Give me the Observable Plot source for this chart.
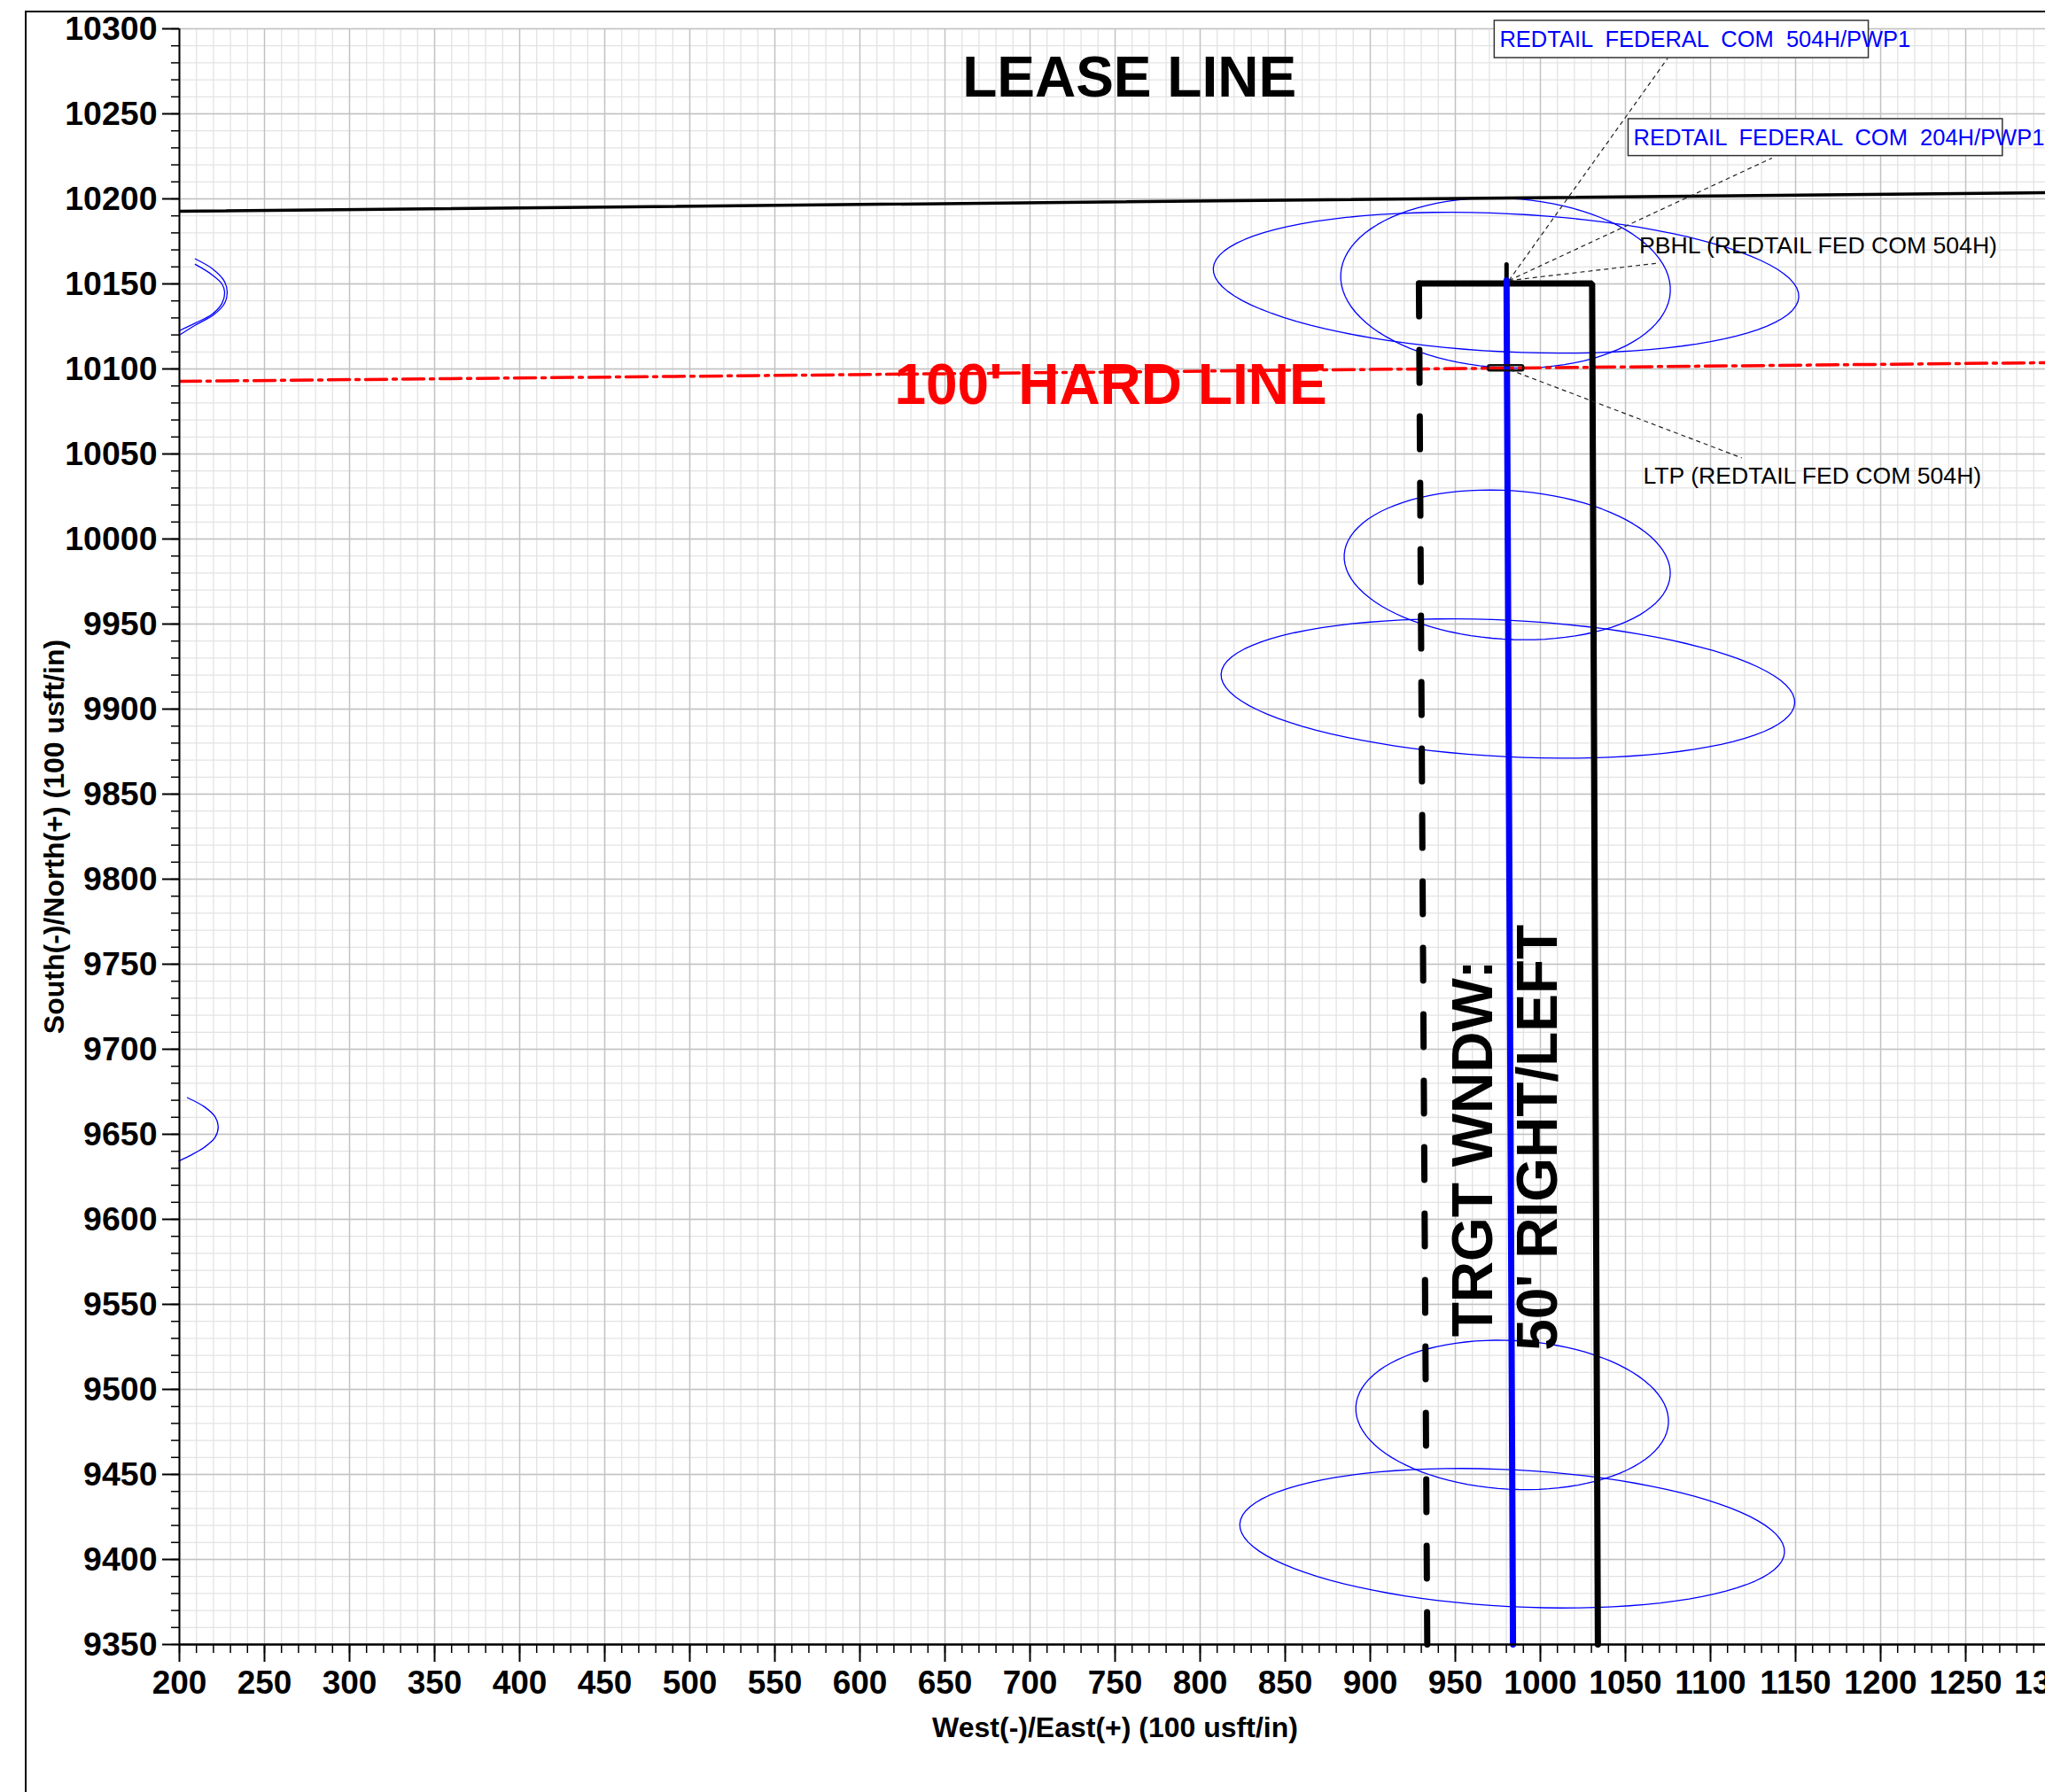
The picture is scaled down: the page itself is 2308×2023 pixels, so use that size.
<!DOCTYPE html>
<html>
<head>
<meta charset="utf-8">
<script src="https://cdn.jsdelivr.net/npm/d3@7"></script>
<script src="https://cdn.jsdelivr.net/npm/@observablehq/plot@0.6"></script>
<style>
html, body { margin:0; padding:0; background:#fff; overflow:hidden; width:2308px; height:2023px; }
#wrap { position:relative; width:2308px; height:2023px; overflow:hidden; background:#fff; }
#chart { position:absolute; left:0; top:0; width:2360px; }
#chart svg { max-width:none !important; }
#frame { position:absolute; left:28px; top:12px; width:2400px; height:2100px; border-left:2px solid #000; border-top:2px solid #000; pointer-events:none; }
#strip { position:absolute; left:0; top:37px; width:28px; height:1833px; overflow:hidden;
  border-top:2px solid #000; border-bottom:3px solid #000;
  background-image:
    repeating-linear-gradient(to bottom, transparent 0 18px, #e2e2e2 18px 19.2px),
    repeating-linear-gradient(to right, transparent 0 6px, #dcdcdc 6px 7.2px, transparent 7.2px 26px, #c4c4c4 26px 27.2px, transparent 27.2px 28px);
  font-family:"Liberation Sans", Arial, sans-serif; }
#strip .wp { position:absolute; left:-9px; top:188px; font-size:26px; color:#0000ff; white-space:nowrap; }
#strip .red { position:absolute; left:0; width:28px; top:1642px; border-top:3px dashed #ff0000; }
#stripLab { position:absolute; left:0; top:1875px; width:28px; height:80px; overflow:hidden; font-family:"Liberation Sans", Arial, sans-serif; }
#stripLab span { position:absolute; left:-12px; top:28px; font-size:36px; font-weight:bold; white-space:nowrap; }
</style>
</head>
<body>
<div id="wrap">
  <div id="strip"><span class="wp">WP1</span><div class="red"></div></div>
  <div id="stripLab"><span>0&nbsp;&nbsp;1</span></div>
  <div id="chart"></div>
  <div id="frame"></div>
</div>
<script>
// ---- tick values ----
const xMajor = [200,250,300,350,400,450,500,550,600,650,700,750,800,850,900,950,1000,1050,1100,1150,1200,1250,1300];
const yMajor = [9350,9400,9450,9500,9550,9600,9650,9700,9750,9800,9850,9900,9950,10000,10050,10100,10150,10200,10250,10300];
const xMinor = d3.range(200, 1301, 10);
const yMinor = d3.range(9350, 10301, 10);

// ---- lines ----
const leaseX = [200, 1300];
const leaseY = [10192.7, 10203.7];
const hardX = [200, 1300];
const hardY = [10092.7, 10103.7];

const wellX = [980.1, 983.9];
const wellY = [10152, 9350];
const windowX = [928.6, 1030.4, 1033.8];
const windowY = [10150.2, 10150.2, 9350];
const windowDashX = [928.6, 933.5];
const windowDashY = [10150.2, 9350];
const pbhlTickX = [980.1, 980.1];
const pbhlTickY = [10150.2, 10161.5];
const ltpX1 = [969.4], ltpX2 = [990.2], ltpY1 = [10098.8], ltpY2 = [10101.9];

// ---- error ellipses: centre, semi-axes, rotation (deg) ----
const ellCx  = [979.8, 979.5, 980.5, 980.9, 983.4, 983.4];
const ellCy  = [10150.7, 10150.5, 9984.8, 9912.1, 9485.0, 9412.5];
const ellA   = [172.3, 97.0, 96.0, 168.8, 92.0, 160.3];
const ellB   = [40.6, 49.8, 43.7, 40.1, 43.7, 40.2];
const ellRot = [-2.8, -3.1, -3.6, -2.9, -3.0, -3.0];

// ---- partial ellipse arcs at left edge ----
const arc1X = [209.3, 219.4, 226.2, 228.1, 226.2, 220.2, 209.4, 199.8];
const arc1Y = [10164.7, 10158.9, 10151.9, 10145.0, 10138.0, 10131.9, 10125.8, 10119.8];
const arc2X = [209.3, 219.0, 225.0, 226.6, 225.0, 219.0, 209.4, 199.8];
const arc2Y = [10161.5, 10155.5, 10150.0, 10145.0, 10138.5, 10132.0, 10127.0, 10122.4];
const arc3X = [204.7, 214.6, 221.0, 222.8, 221.0, 214.6, 205.9, 199.8];
const arc3Y = [9671.5, 9666.2, 9660.2, 9654.6, 9648.2, 9642.3, 9637.3, 9634.3];

// ---- annotation texts ----
const bigText = ["LEASE LINE"];
const bigX = [758.4], bigY = [10270.8];
const hardText = ["100' HARD LINE"];
const hardTX = [747.4], hardTY = [10090];
const winText = ["TRGT WNDW:", "50' RIGHT/LEFT"];
const winTX = [961.2, 998.9], winTY = [9641.6, 9648.0];

const wellNames = ["REDTAIL  FEDERAL  COM  504H/PWP1", "REDTAIL  FEDERAL  COM  204H/PWP1"];
const nameX = [976.0, 1054.7], nameY = [10293.6, 10235.7];
const boxX1 = [973.1, 1051.8], boxX2 = [1193.0, 1271.8];
const boxY1 = [10282.8, 10225.2], boxY2 = [10304.7, 10246.9];

const pointNames = ["PBHL (REDTAIL FED COM 504H)", "LTP (REDTAIL FED COM 504H)"];
const pointX = [1058.1, 1060.4], pointY = [10172.6, 10037.1];

const leadX1 = [981.5, 981.5, 981.5, 982.0];
const leadY1 = [10152.0, 10152.0, 10152.0, 10099.5];
const leadX2 = [1074.9, 1136.1, 1069.8, 1118.4];
const leadY2 = [10282.8, 10224.0, 10162.3, 10047.7];

const xTitle = ["West(-)/East(+) (100 usft/in)"];
const yTitle = ["South(-)/North(+) (100 usft/in)"];

const FONT = "'Liberation Sans', Arial, Helvetica, sans-serif";

// build ellipse outlines from their parameters
const ellipsePts = [];
ellCx.forEach((cx, i) => {
  const th = ellRot[i] * Math.PI / 180;
  for (let k = 0; k <= 96; k++) {
    const t = k / 96 * 2 * Math.PI;
    ellipsePts.push({
      id: i,
      x: cx + ellA[i] * Math.cos(t) * Math.cos(th) - ellB[i] * Math.sin(t) * Math.sin(th),
      y: ellCy[i] + ellA[i] * Math.cos(t) * Math.sin(th) + ellB[i] * Math.sin(t) * Math.cos(th)
    });
  }
});

const W = 2360, H = 1990;
const chart = Plot.plot({
  width: W, height: H,
  marginLeft: 202, marginRight: 46, marginTop: 32, marginBottom: 134,
  x: {domain: [200, 1300], label: null},
  y: {domain: [9350, 10300], label: null},
  style: {background: "#fff", color: "#000", fontFamily: FONT, overflow: "visible", maxWidth: "none"},
  marks: [
    // grid
    Plot.ruleX(xMinor, {stroke: "#e3e3e3", strokeWidth: 1.3}),
    Plot.ruleY(yMinor, {stroke: "#e3e3e3", strokeWidth: 1.3}),
    Plot.ruleX(xMajor, {stroke: "#c2c2c2", strokeWidth: 1.4}),
    Plot.ruleY(yMajor, {stroke: "#c2c2c2", strokeWidth: 1.4}),

    // error ellipses
    Plot.line(ellipsePts, {x: "x", y: "y", z: "id", stroke: "#0000ff", strokeWidth: 1.3}),
    Plot.line(arc1X, {x: arc1X, y: arc1Y, stroke: "#0000ff", strokeWidth: 1.3, curve: "catmull-rom"}),
    Plot.line(arc2X, {x: arc2X, y: arc2Y, stroke: "#0000ff", strokeWidth: 1.3, curve: "catmull-rom"}),
    Plot.line(arc3X, {x: arc3X, y: arc3Y, stroke: "#0000ff", strokeWidth: 1.3, curve: "catmull-rom"}),

    // hard line + label
    Plot.text(hardText, {x: hardTX, y: hardTY, text: d => d, fill: "#ff0000", fontSize: 64, fontWeight: "bold", fontFamily: FONT}),
    Plot.line(hardX, {x: hardX, y: hardY, stroke: "#ff0000", strokeWidth: 3.5, strokeDasharray: "24,7,4,7", clip: true}),

    // lease line + label
    Plot.line(leaseX, {x: leaseX, y: leaseY, stroke: "#000", strokeWidth: 3.5, clip: true}),
    Plot.text(bigText, {x: bigX, y: bigY, text: d => d, fill: "#000", fontSize: 64, fontWeight: "bold", fontFamily: FONT}),

    // target window
    Plot.line(windowDashX, {x: windowDashX, y: windowDashY, stroke: "#000", strokeWidth: 7, strokeDasharray: "37,38", strokeLinecap: "round"}),
    Plot.line(windowX, {x: windowX, y: windowY, stroke: "#000", strokeWidth: 7, strokeLinejoin: "miter", strokeLinecap: "round"}),
    Plot.line(pbhlTickX, {x: pbhlTickX, y: pbhlTickY, stroke: "#000", strokeWidth: 5, strokeLinecap: "round"}),
    Plot.text(winText, {x: winTX, y: winTY, text: d => d, rotate: -90, textAnchor: "middle", lineAnchor: "middle", fill: "#000", fontSize: 64, fontWeight: "bold", fontFamily: FONT}),

    // wellbore
    Plot.line(wellX, {x: wellX, y: wellY, stroke: "#0000ff", strokeWidth: 7, strokeLinecap: "round"}),
    Plot.rect(ltpX1, {x1: ltpX1, x2: ltpX2, y1: ltpY1, y2: ltpY2, fill: "none", stroke: "#111", strokeWidth: 2.5, rx: 2}),

    // leader lines
    Plot.link(leadX1, {x1: leadX1, y1: leadY1, x2: leadX2, y2: leadY2, stroke: "#222", strokeWidth: 1.2, strokeDasharray: "5,4"}),

    // well name boxes
    Plot.rect(boxX1, {x1: boxX1, x2: boxX2, y1: boxY1, y2: boxY2, fill: "#fff", stroke: "#333", strokeWidth: 1.5}),
    Plot.text(wellNames, {x: nameX, y: nameY, text: d => d, textAnchor: "start", fill: "#0000ff", fontSize: 25.5, fontFamily: FONT}),
    Plot.text(pointNames, {x: pointX, y: pointY, text: d => d, textAnchor: "start", fill: "#000", fontSize: 26.6, fontFamily: FONT}),

    // axes
    Plot.ruleX([200], {stroke: "#000", strokeWidth: 2}),
    Plot.ruleY([9350], {stroke: "#000", strokeWidth: 2.5}),
    Plot.axisX(xMinor, {anchor: "bottom", tickSize: 10, tickFormat: () => "", strokeWidth: 1.5, label: null}),
    Plot.axisY(yMinor, {anchor: "left", tickSize: 9, tickFormat: () => "", strokeWidth: 1.5, label: null}),
    Plot.axisX(xMajor, {anchor: "bottom", tickSize: 20, tickPadding: 9, tickFormat: d => String(d), strokeWidth: 2, fontSize: 37, fontWeight: "bold", fontFamily: FONT, label: null}),
    Plot.axisY(yMajor, {anchor: "left", tickSize: 19, tickPadding: 6, tickFormat: d => String(d), strokeWidth: 2, fontSize: 37.5, fontWeight: "bold", fontFamily: FONT, label: null}),

    // axis titles
    Plot.text(xTitle, {frameAnchor: "bottom", dy: 94, textAnchor: "middle", lineAnchor: "middle", text: d => d, fontSize: 32, fontWeight: "bold", fontFamily: FONT, fill: "#000"}),
    Plot.text(yTitle, {frameAnchor: "left", dx: -140.5, rotate: -90, textAnchor: "middle", lineAnchor: "middle", text: d => d, fontSize: 32, fontWeight: "bold", fontFamily: FONT, fill: "#000"})
  ]
});
document.getElementById("chart").appendChild(chart);
</script>
</body>
</html>
